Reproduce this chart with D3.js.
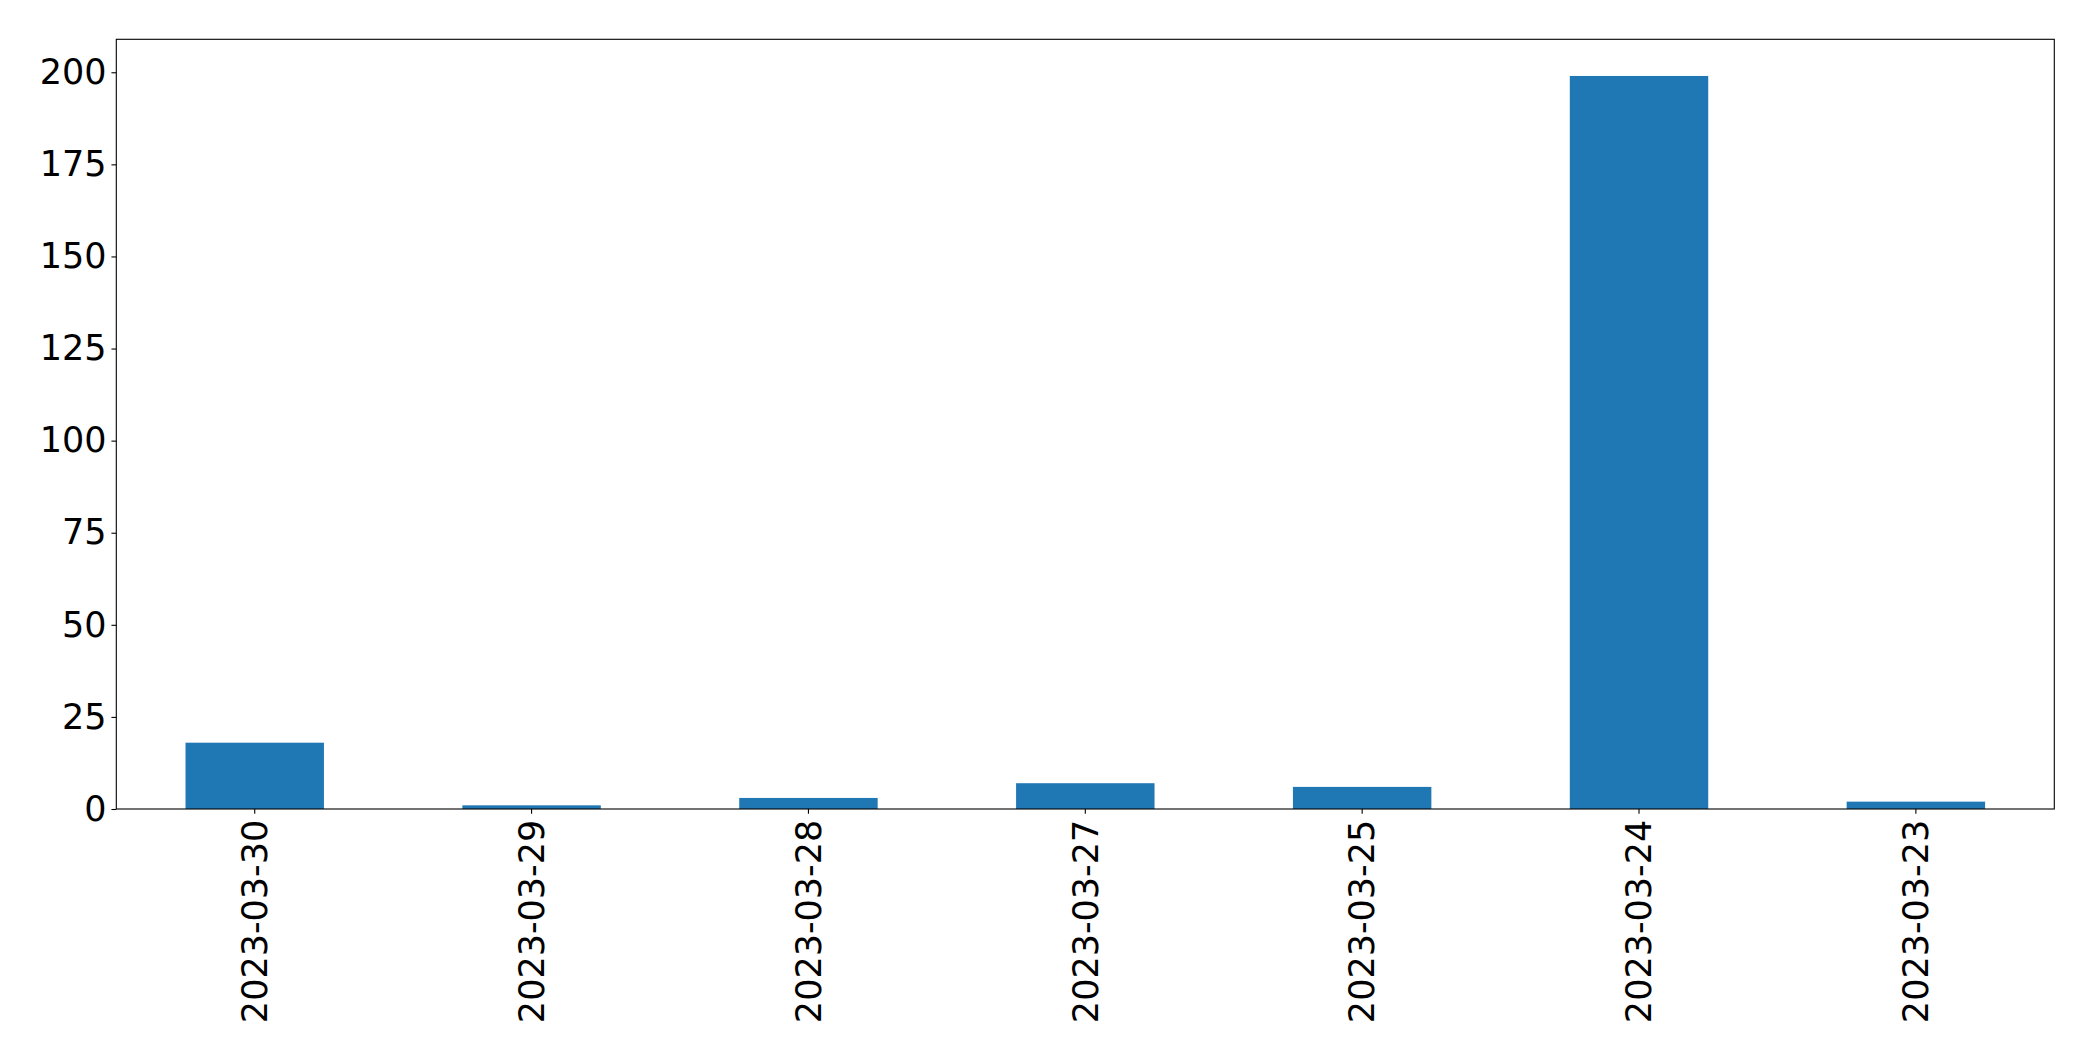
<!DOCTYPE html>
<html>
<head>
<meta charset="utf-8">
<script src="https://cdn.jsdelivr.net/npm/d3@7"></script>
<style>
  html, body { margin: 0; padding: 0; background: #fff; }
  svg { display: block; }
  text { font-family: "DejaVu Sans", sans-serif; fill: #000; }
</style>
</head>
<body>
<script>
const categories = ["2023-03-30", "2023-03-29", "2023-03-28", "2023-03-27", "2023-03-25", "2023-03-24", "2023-03-23"];
const values = [18, 1, 3, 7, 6, 199, 2];
const yTicks = [0, 25, 50, 75, 100, 125, 150, 175, 200];

(function () {
const W = 2093, H = 1061;
const mLeft = 116.3, mRight = 2054.3, mTop = 39.3, mBottom = 809;
const tickLen = 4.86, tickPad = 4.86, fontSize = 35;

const svg = d3.select("body").append("svg").attr("width", W).attr("height", H);

const x = d3.scaleBand().domain(categories).range([mLeft, mRight]).paddingInner(0.5).paddingOuter(0.25);
const y = d3.scaleLinear().domain([0, d3.max(values) * 1.05]).range([mBottom, mTop]);

svg.append("g").selectAll("rect").data(values).join("rect")
  .attr("x", (d, i) => x(categories[i]))
  .attr("y", d => y(d))
  .attr("width", x.bandwidth())
  .attr("height", d => y(0) - y(d))
  .attr("fill", "#1f77b4");

// Y axis
const yAxis = d3.axisLeft(y).tickValues(yTicks).tickSize(tickLen).tickPadding(tickPad).tickSizeOuter(0);
const gy = svg.append("g").attr("transform", `translate(${mLeft},0)`).call(yAxis);
gy.select(".domain").remove();
gy.selectAll(".tick line").attr("stroke", "#000").attr("stroke-width", 1.1);
gy.selectAll(".tick text").attr("font-size", fontSize).attr("font-family", "DejaVu Sans");

// X axis
const xAxis = d3.axisBottom(x).tickSize(tickLen).tickPadding(tickPad).tickSizeOuter(0);
const gx = svg.append("g").attr("transform", `translate(0,${mBottom})`).call(xAxis);
gx.select(".domain").remove();
gx.selectAll(".tick line").attr("stroke", "#000").attr("stroke-width", 1.1);
gx.selectAll(".tick text")
  .attr("font-size", fontSize).attr("font-family", "DejaVu Sans")
  .attr("text-anchor", "end")
  .attr("x", 0).attr("y", 0).attr("dy", "0.35em")
  .attr("transform", `translate(0,${tickLen + tickPad + 1}) rotate(-90)`);

// Frame
svg.append("rect")
  .attr("x", mLeft).attr("y", mTop)
  .attr("width", mRight - mLeft).attr("height", mBottom - mTop)
  .attr("fill", "none").attr("stroke", "#000").attr("stroke-width", 1.1);
})();
</script>
</body>
</html>
